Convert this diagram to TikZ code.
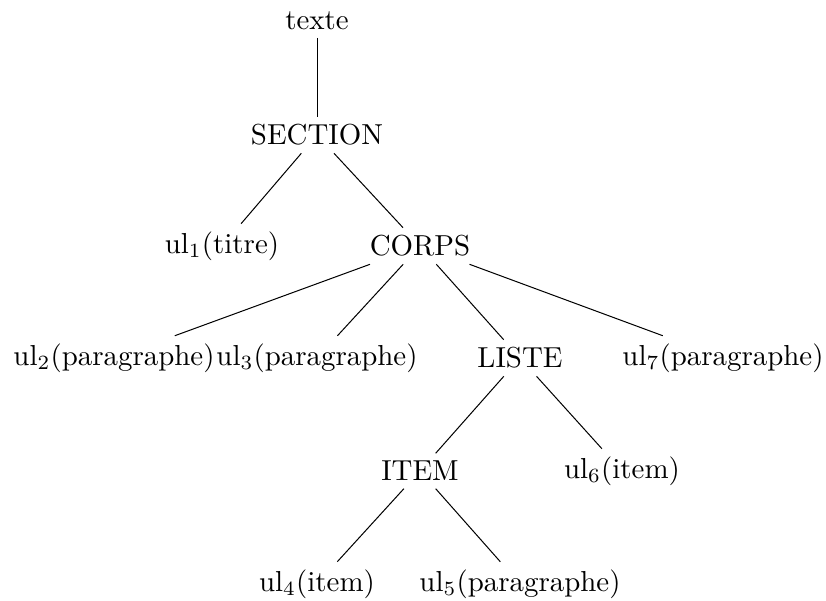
\documentclass[tikz,border=0pt]{standalone}
\usepackage{amsmath}
\usepackage{amssymb}

\begin{document}
\begin{tikzpicture}[x=0.346pt,y=-0.346pt]
                \useasboundingbox (0,0) rectangle (826,601);
                \begin{scope}[every node/.style={inner sep=2.5pt}]
                    \node (texte) at (317,21) {texte};
                    \node (section) at (317,135) {SECTION};
                    \node (ul1) at (222,246) {ul$_1$(titre)};
                    \node (corps) at (420,246) {CORPS};
                    \node (ul2) at (114,358) {ul$_2$(paragraphe)};
                    \node (ul3) at (317,358) {ul$_3$(paragraphe)};
                    \node (liste) at (520,358) {LISTE};
                    \node (ul7) at (723,358) {ul$_7$(paragraphe)};
                    \node (item) at (420,471) {ITEM};
                    \node (ul6) at (622,471) {ul$_6$(item)};
                    \node (ul4) at (317,584) {ul$_4$(item)};
                    \node (ul5) at (520,584) {ul$_5$(paragraphe)};
                \end{scope}
                \begin{scope}[every edge/.style={draw=black,line width=0.35pt}]
                    \draw (texte) edge (section);
                    \draw (section) edge (ul1);
                    \draw (section) edge (corps);
                    \draw (corps) edge (ul2);
                    \draw (corps) edge (ul3);
                    \draw (corps) edge (liste);
                    \draw (corps) edge (ul7);
                    \draw (liste) edge (item);
                    \draw (liste) edge (ul6);
                    \draw (item) edge (ul4);
                    \draw (item) edge (ul5);
                \end{scope}
            \end{tikzpicture}
\end{document}
